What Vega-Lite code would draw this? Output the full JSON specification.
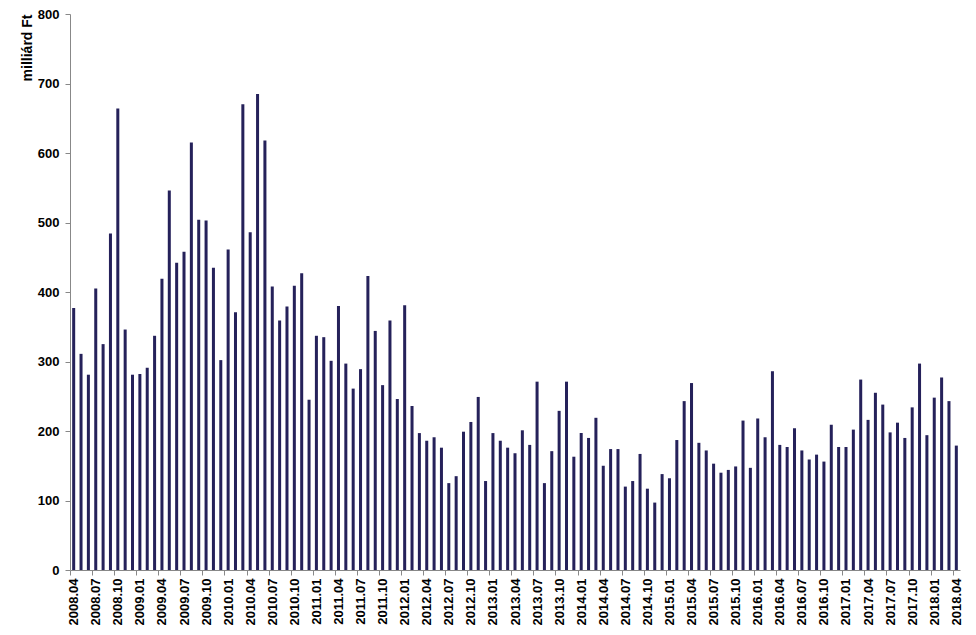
{
  "$schema": "https://vega.github.io/schema/vega-lite/v6.json",
  "width": 890,
  "height": 556,
  "autosize": {"type": "none"},
  "padding": {"left": 70, "top": 14, "right": 16, "bottom": 65},
  "background": "white",
  "config": {"view": {"stroke": null}},
  "data": {"values": [
    {"m":"2008.04","v":377},{"m":"2008.05","v":311},{"m":"2008.06","v":281},{"m":"2008.07","v":405},{"m":"2008.08","v":325},{"m":"2008.09","v":484},{"m":"2008.10","v":664},{"m":"2008.11","v":346},{"m":"2008.12","v":281},
    {"m":"2009.01","v":282},{"m":"2009.02","v":291},{"m":"2009.03","v":337},{"m":"2009.04","v":419},{"m":"2009.05","v":546},{"m":"2009.06","v":442},{"m":"2009.07","v":458},{"m":"2009.08","v":615},{"m":"2009.09","v":504},{"m":"2009.10","v":503},{"m":"2009.11","v":435},{"m":"2009.12","v":302},
    {"m":"2010.01","v":461},{"m":"2010.02","v":371},{"m":"2010.03","v":670},{"m":"2010.04","v":486},{"m":"2010.05","v":685},{"m":"2010.06","v":618},{"m":"2010.07","v":408},{"m":"2010.08","v":359},{"m":"2010.09","v":379},{"m":"2010.10","v":409},{"m":"2010.11","v":427},{"m":"2010.12","v":245},
    {"m":"2011.01","v":337},{"m":"2011.02","v":335},{"m":"2011.03","v":301},{"m":"2011.04","v":380},{"m":"2011.05","v":297},{"m":"2011.06","v":261},{"m":"2011.07","v":289},{"m":"2011.08","v":423},{"m":"2011.09","v":344},{"m":"2011.10","v":266},{"m":"2011.11","v":359},{"m":"2011.12","v":246},
    {"m":"2012.01","v":381},{"m":"2012.02","v":236},{"m":"2012.03","v":197},{"m":"2012.04","v":186},{"m":"2012.05","v":191},{"m":"2012.06","v":176},{"m":"2012.07","v":125},{"m":"2012.08","v":135},{"m":"2012.09","v":199},{"m":"2012.10","v":213},{"m":"2012.11","v":249},{"m":"2012.12","v":128},
    {"m":"2013.01","v":197},{"m":"2013.02","v":186},{"m":"2013.03","v":176},{"m":"2013.04","v":168},{"m":"2013.05","v":201},{"m":"2013.06","v":180},{"m":"2013.07","v":271},{"m":"2013.08","v":125},{"m":"2013.09","v":171},{"m":"2013.10","v":229},{"m":"2013.11","v":271},{"m":"2013.12","v":163},
    {"m":"2014.01","v":197},{"m":"2014.02","v":190},{"m":"2014.03","v":219},{"m":"2014.04","v":150},{"m":"2014.05","v":174},{"m":"2014.06","v":174},{"m":"2014.07","v":120},{"m":"2014.08","v":128},{"m":"2014.09","v":167},{"m":"2014.10","v":117},{"m":"2014.11","v":97},{"m":"2014.12","v":138},
    {"m":"2015.01","v":132},{"m":"2015.02","v":187},{"m":"2015.03","v":243},{"m":"2015.04","v":269},{"m":"2015.05","v":183},{"m":"2015.06","v":172},{"m":"2015.07","v":153},{"m":"2015.08","v":140},{"m":"2015.09","v":144},{"m":"2015.10","v":149},{"m":"2015.11","v":215},{"m":"2015.12","v":147},
    {"m":"2016.01","v":218},{"m":"2016.02","v":191},{"m":"2016.03","v":286},{"m":"2016.04","v":180},{"m":"2016.05","v":177},{"m":"2016.06","v":204},{"m":"2016.07","v":172},{"m":"2016.08","v":159},{"m":"2016.09","v":166},{"m":"2016.10","v":156},{"m":"2016.11","v":209},{"m":"2016.12","v":177},
    {"m":"2017.01","v":177},{"m":"2017.02","v":202},{"m":"2017.03","v":274},{"m":"2017.04","v":216},{"m":"2017.05","v":255},{"m":"2017.06","v":238},{"m":"2017.07","v":198},{"m":"2017.08","v":212},{"m":"2017.09","v":190},{"m":"2017.10","v":234},{"m":"2017.11","v":297},{"m":"2017.12","v":194},
    {"m":"2018.01","v":248},{"m":"2018.02","v":277},{"m":"2018.03","v":243},{"m":"2018.04","v":179}
  ]},
  "mark": {"type": "bar", "color": "#25215a"},
  "encoding": {
    "x": {
      "field": "m",
      "type": "ordinal",
      "sort": null,
      "scale": {"paddingInner": 0.59, "paddingOuter": 0.295},
      "axis": {
        "title": null,
        "values": ["2008.04","2008.07","2008.10","2009.01","2009.04","2009.07","2009.10","2010.01","2010.04","2010.07","2010.10","2011.01","2011.04","2011.07","2011.10","2012.01","2012.04","2012.07","2012.10","2013.01","2013.04","2013.07","2013.10","2014.01","2014.04","2014.07","2014.10","2015.01","2015.04","2015.07","2015.10","2016.01","2016.04","2016.07","2016.10","2017.01","2017.04","2017.07","2017.10","2018.01","2018.04"],
        "labelAngle": -90,
        "labelFont": "Liberation Sans",
        "labelFontWeight": "bold",
        "labelFontSize": 13,
        "labelColor": "#000000",
        "labelPadding": 3,
        "tickOffset": -3.68,
        "labelOffset": 3.68,
        "tickSize": 5,
        "tickColor": "#888888",
        "domainColor": "#888888",
        "grid": false
      }
    },
    "y": {
      "field": "v",
      "type": "quantitative",
      "scale": {"domain": [0, 800], "nice": false},
      "axis": {
        "title": "milliárd Ft",
        "titleFont": "Liberation Sans",
        "titleFontWeight": "bold",
        "titleFontSize": 14,
        "titleColor": "#000000",
        "titleAngle": -90,
        "titleAlign": "right",
        "titleBaseline": "middle",
        "titleX": -43,
        "titleY": 0,
        "values": [0,100,200,300,400,500,600,700,800],
        "labelFont": "Liberation Sans",
        "labelFontWeight": "bold",
        "labelFontSize": 13,
        "labelColor": "#000000",
        "labelPadding": 6,
        "tickSize": 5,
        "tickColor": "#888888",
        "domainColor": "#888888",
        "grid": false
      }
    }
  }
}
